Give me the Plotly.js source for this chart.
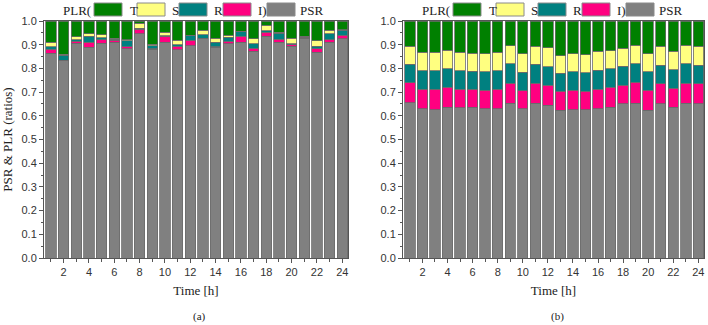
<!DOCTYPE html>
<html><head><meta charset="utf-8">
<script src="https://cdn.plot.ly/plotly-3.0.1.min.js"></script>
<style>html,body{margin:0;padding:0;background:#fff}#chart{width:708px;height:325px}</style>
</head><body><div id="chart"></div>
<script>
// hours
const hours = [1,2,3,4,5,6,7,8,9,10,11,12,13,14,15,16,17,18,19,20,21,22,23,24];
const xTicks = [2,4,6,8,10,12,14,16,18,20,22,24];
const xMinor = [1,3,5,7,9,11,13,15,17,19,21,23];

// panel (a)
const psrA = [0.864,0.833,0.906,0.889,0.906,0.911,0.883,0.947,0.880,0.910,0.879,0.895,0.926,0.889,0.904,0.911,0.872,0.935,0.911,0.893,0.928,0.869,0.911,0.925];
const iA   = [0.017,0.002,0.009,0.022,0.014,0.008,0.009,0.018,0.003,0.025,0.014,0.023,0.002,0.002,0.010,0.024,0.014,0.018,0.013,0.006,0.003,0.014,0.010,0.015];
const rA   = [0.010,0.021,0.005,0.024,0.010,0.004,0.024,0.005,0.012,0.003,0.007,0.020,0.015,0.019,0.018,0.019,0.018,0.005,0.025,0.005,0.002,0.010,0.026,0.021];
const sA   = [0.020,0.004,0.014,0.011,0.011,0.005,0.004,0.020,0.007,0.014,0.018,0.002,0.019,0.018,0.008,0.003,0.021,0.024,0.003,0.024,0.002,0.024,0.014,0.003];
const tA   = [0.089,0.140,0.066,0.054,0.059,0.072,0.080,0.010,0.098,0.048,0.082,0.060,0.038,0.072,0.060,0.043,0.075,0.018,0.048,0.072,0.065,0.083,0.039,0.036];

// panel (b)
const psrB = [0.656,0.630,0.626,0.636,0.635,0.636,0.630,0.630,0.652,0.629,0.653,0.645,0.624,0.626,0.626,0.630,0.636,0.650,0.654,0.623,0.651,0.636,0.654,0.651];
const iB   = [0.083,0.083,0.086,0.084,0.078,0.077,0.077,0.083,0.085,0.077,0.084,0.084,0.079,0.081,0.077,0.083,0.084,0.079,0.088,0.084,0.085,0.081,0.084,0.085];
const rB   = [0.078,0.078,0.078,0.078,0.078,0.075,0.078,0.077,0.082,0.078,0.080,0.079,0.076,0.078,0.078,0.079,0.079,0.080,0.077,0.078,0.077,0.078,0.081,0.077];
const sB   = [0.077,0.077,0.079,0.078,0.078,0.077,0.077,0.078,0.077,0.077,0.077,0.079,0.075,0.077,0.077,0.080,0.076,0.077,0.079,0.077,0.080,0.077,0.078,0.080];
const tB   = [0.106,0.132,0.131,0.124,0.131,0.135,0.138,0.132,0.104,0.139,0.106,0.113,0.146,0.138,0.142,0.128,0.125,0.114,0.102,0.138,0.107,0.128,0.103,0.107];

const seriesNames = ['PSR','I','R','S','T'];
const colors = {PSR:'#808080', I:'#ff0080', R:'#008080', S:'#ffff80', T:'#008000'};

const W = 708, H = 325;
const px = v => v / W;
const py = v => 1 - v / H;

function makeTraces(vals, xa, ya) {
  return seriesNames.map((n, k) => ({
    type: 'bar', x: hours, y: vals[k], name: n, xaxis: xa, yaxis: ya,
    width: 0.83, showlegend: false,
    marker: {color: colors[n], line: {color: '#6a6a6a', width: 0.8}},
    hovertemplate: n + ' %{x}: %{y}<extra></extra>'
  }));
}

const data = [
  ...makeTraces([psrA, iA, rA, sA, tA], 'x', 'y'),
  ...makeTraces([psrB, iB, rB, sB, tB], 'x2', 'y2')
];

const SERIF = 'Liberation Serif';
const SANS = 'Liberation Sans';
const tickFont = {family: SANS, size: 11, color: '#333'};
const titleFont = {family: SERIF, size: 13, color: '#222'};

function xAxis(domain, anchor) {
  return {
    domain: domain, anchor: anchor, range: [0.45, 24.45],
    tickmode: 'array', tickvals: xTicks, ticktext: xTicks.map(String),
    ticks: 'outside', ticklen: 4, tickcolor: '#555', tickwidth: 1,
    minor: {tickmode: 'array', tickvals: xMinor, ticks: 'outside', ticklen: 3, tickcolor: '#555'},
    showline: true, mirror: true, linecolor: '#555', linewidth: 1,
    showgrid: false, zeroline: false, tickfont: tickFont,
    title: {text: 'Time [h]', font: titleFont, standoff: 8}
  };
}
function yAxis(domain, anchor, withTitle) {
  const a = {
    domain: domain, anchor: anchor, range: [0, 1],
    tickmode: 'linear', tick0: 0, dtick: 0.1, tickformat: '.1f',
    ticks: 'outside', ticklen: 4, tickcolor: '#555', tickwidth: 1,
    minor: {dtick: 0.05, tick0: 0, ticks: 'outside', ticklen: 2, tickcolor: '#555'},
    showline: true, mirror: true, linecolor: '#555', linewidth: 1,
    showgrid: false, zeroline: false, tickfont: tickFont
  };
  if (withTitle) a.title = {text: 'PSR & PLR (ratios)', font: titleFont, standoff: 6};
  return a;
}

const yDom = [1 - 258 / H, 1 - 21 / H];

// legend drawn as shapes + text
const legendItems = [
  {name: 'T', color: colors.T, bx: 94, tx: 128},
  {name: 'S', color: colors.S, bx: 137, tx: 170},
  {name: 'R', color: colors.R, bx: 179, tx: 212},
  {name: 'I)', color: colors.I, bx: 223, tx: 256},
  {name: 'PSR', color: colors.PSR, bx: 267, tx: 298}
];
const shapes = [], annotations = [];
const legFont = {family: SERIF, size: 13, color: '#222'};
[0, 359].forEach((off, p) => {
  annotations.push({xref: 'paper', yref: 'paper', x: px(93 + off), y: py(10), text: 'PLR(',
    showarrow: false, xanchor: 'right', yanchor: 'middle', font: legFont});
  legendItems.forEach(it => {
    shapes.push({type: 'rect', xref: 'paper', yref: 'paper',
      x0: px(it.bx + off), x1: px(it.bx + 28 + off), y0: py(16), y1: py(3),
      fillcolor: it.color, line: {color: '#8a8a8a', width: 1}});
    annotations.push({xref: 'paper', yref: 'paper', x: px(it.tx + off), y: py(10), text: it.name,
      showarrow: false, xanchor: 'left', yanchor: 'middle', font: legFont});
  });
  annotations.push({xref: 'paper', yref: 'paper', x: px(p === 0 ? 199 : 557), y: py(316),
    text: p === 0 ? '(a)' : '(b)', showarrow: false, xanchor: 'center', yanchor: 'middle',
    font: {family: SERIF, size: 11, color: '#222'}});
});

const layout = {
  width: W, height: H, margin: {l: 0, r: 0, t: 0, b: 0},
  paper_bgcolor: '#fff', plot_bgcolor: '#fff',
  barmode: 'stack', showlegend: false,
  xaxis: xAxis([px(44), px(348)], 'y'),
  yaxis: yAxis(yDom, 'x', true),
  xaxis2: xAxis([px(403), px(704)], 'y2'),
  yaxis2: yAxis(yDom, 'x2', false),
  shapes: shapes, annotations: annotations
};

Plotly.newPlot('chart', data, layout, {displayModeBar: false, staticPlot: true});
</script>
</body></html>
